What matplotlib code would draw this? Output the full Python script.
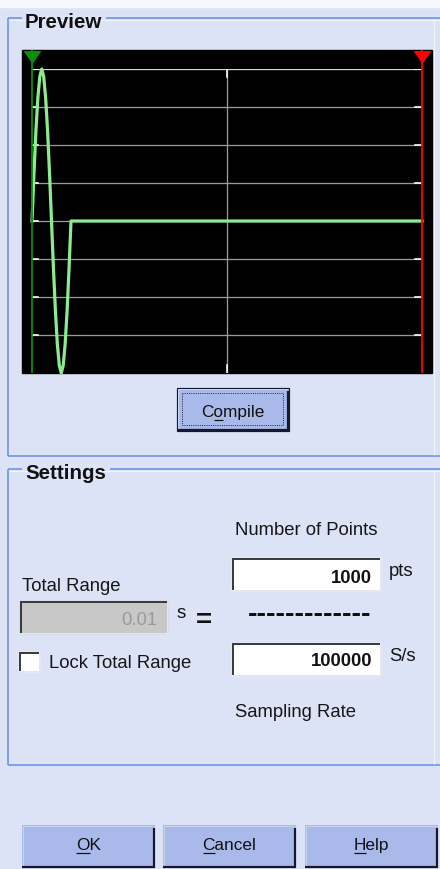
import matplotlib
matplotlib.use('Agg')
import matplotlib.pyplot as plt
from matplotlib.patches import Rectangle

plt.rcParams['font.family'] = ['Liberation Sans', 'DejaVu Sans']

# ---------------- data ----------------
time_ms = [0.0, 0.05, 0.10, 0.15, 0.20, 0.25, 0.30, 0.35, 0.40, 0.45, 0.50,
           0.55, 0.60, 0.65, 0.70, 0.75, 0.80, 0.85, 0.90, 0.95, 1.00, 10.0]
amplitude = [0.0, 0.31, 0.59, 0.81, 0.95, 1.0, 0.95, 0.81, 0.59, 0.31, 0.0,
             -0.31, -0.59, -0.81, -0.95, -1.0, -0.95, -0.81, -0.59, -0.31, 0.0, 0.0]
x_range_ms = [0.0, 10.0]
y_range = [-1.0, 1.0]
cursor_times_ms = [0.0, 10.0]
cursor_colors = ['#0b8f0b', '#ff0000']
n_ydiv = 8
n_xdiv = 2

group_titles = ['Preview', 'Settings']
compile_label = 'Compile'
label_points = 'Number of Points'
label_rate = 'Sampling Rate'
label_total = 'Total Range'
label_lock = 'Lock Total Range'
value_points = '1000'
value_rate = '100000'
value_total = '0.01'
unit_points = 'pts'
unit_rate = 'S/s'
unit_total = 's'
button_labels = ['OK', 'Cancel', 'Help']

# ---------------- styles ----------------
W, H = 440, 869
LAV = '#dde3f7'
BORDER = '#6a93e8'
BTN = '#a9b9ea'
DARK = '#15182e'
FS = 13.3
FS_BTN = 12.4

fig = plt.figure(figsize=(W / 100, H / 100), dpi=100)
bg = fig.add_axes([0, 0, 1, 1])
bg.set_xlim(0, W)
bg.set_ylim(H, 0)
bg.axis('off')
renderer = fig.canvas.get_renderer()

PX = 0.72  # points per pixel


def twidth(s, **kw):
    t = bg.text(0, 0, s, **kw)
    w = t.get_window_extent(renderer).width
    t.remove()
    return w


def hline(x0, x1, y, c, w=1.0, z=2, **kw):
    bg.plot([x0, x1], [y, y], color=c, lw=w * PX, zorder=z, solid_capstyle='butt', **kw)


def vline(x, y0, y1, c, w=1.0, z=2, **kw):
    bg.plot([x, x], [y0, y1], color=c, lw=w * PX, zorder=z, solid_capstyle='butt', **kw)


bg.add_patch(Rectangle((0, 0), W, H, color=LAV, zorder=0))
bg.add_patch(Rectangle((0, 0), W, 7, color='#f6f8fe', zorder=0.5))


def group_box(y_top, y_bot, title):
    tw = twidth(title, fontsize=14.8, fontweight='bold')
    bg.text(25, y_top + 10, title, fontsize=14.8, fontweight='bold', color='#111111',
            ha='left', va='baseline', zorder=3)
    hline(8, 22, y_top, BORDER, 1.6)
    hline(25 + tw + 4, W, y_top, BORDER, 1.6)
    hline(9, W, y_top + 1.5, '#f4f6fd', 1.0)
    vline(8, y_top, y_bot, BORDER, 1.6)
    hline(8, W, y_bot, BORDER, 1.6)
    vline(433.5, y_top + 2, y_bot - 1, '#f0f3fc', 1.2)


group_box(18, 456, group_titles[0])
group_box(469, 765, group_titles[1])

# ---------------- preview plot ----------------
bg.add_patch(Rectangle((22, 50), 410, 323, color='black', zorder=1))

ax = fig.add_axes([32 / W, 1 - 373 / H, 390 / W, 304 / H])
ax.set_xlim(x_range_ms)
ax.set_ylim(y_range)
ax.axis('off')

ytr = ax.get_yaxis_transform()
xtr = ax.get_xaxis_transform()
span = y_range[1] - y_range[0]
for k in range(1, n_ydiv + 1):
    yv = y_range[0] + span * k / n_ydiv
    col = '#d6d6d6' if k == n_ydiv else '#9a9a9a'
    ax.plot([0, 1], [yv, yv], transform=ytr, color=col, lw=1.3 * PX, zorder=1)
    ax.plot([0, 0.016], [yv, yv], transform=ytr, color='white', lw=1.6 * PX, zorder=1.1)
    ax.plot([0.982, 1], [yv, yv], transform=ytr, color='white', lw=1.6 * PX, zorder=1.1)
xspan = x_range_ms[1] - x_range_ms[0]
for j in range(1, n_xdiv):
    xv = x_range_ms[0] + xspan * j / n_xdiv
    ax.plot([xv, xv], [0, 1], transform=xtr, color='#9a9a9a', lw=1.3 * PX, zorder=1)
    ax.plot([xv, xv], [0.975, 1], transform=xtr, color='white', lw=1.6 * PX, zorder=1.1)
    ax.plot([xv, xv], [0, 0.025], transform=xtr, color='white', lw=1.6 * PX, zorder=1.1)

ax.plot(time_ms, amplitude, color='#8eea8e', lw=3.2 * PX, zorder=3, clip_on=False)

tri = [(-9, 6.5), (9, 6.5), (0, -6.5)]
for t, c in zip(cursor_times_ms, cursor_colors):
    ax.plot([t, t], [0, 1.0625], transform=xtr, color=c, lw=1.8 * PX, zorder=4,
            clip_on=False, solid_capstyle='butt')
    ax.plot([t], [1.041], transform=xtr, marker=tri, ms=18 * PX, color=c,
            mec=c, mew=0, zorder=5, clip_on=False)


# ---------------- buttons ----------------
def underline_text(cx, base, label, idx, fs):
    full = twidth(label, fontsize=fs)
    pre = twidth(label[:idx], fontsize=fs) if idx > 0 else 0.0
    ch = twidth(label[idx], fontsize=fs)
    left = cx - full / 2
    bg.text(cx, base, label, fontsize=fs, ha='center', va='baseline', color='#111111',
            zorder=6)
    hline(left + pre, left + pre + ch, base + 3, '#111111', 1.2, z=6)


def button(x0, y0, x1, y1, label, idx, base, default=False):
    bg.add_patch(Rectangle((x0, y0), x1 - x0, y1 - y0, facecolor=BTN,
                           edgecolor=DARK if default else 'none', lw=1.2 * PX, zorder=4))
    hline(x0 + 1, x1 - 2, y0 + 1, '#c9d3f3', 1.0, z=5)
    vline(x0 + 1, y0 + 1, y1 - 2, '#c9d3f3', 1.0, z=5)
    vline(x1 - 1, y0 + 3, y1, DARK, 2.2, z=5)
    hline(x0, x1, y1 - 1, DARK, 2.2, z=5)
    cx = (x0 + x1) / 2
    underline_text(cx, base, label, idx, FS_BTN)
    if default:
        bg.add_patch(Rectangle((x0 + 5, y0 + 5), x1 - x0 - 11, y1 - y0 - 11, fill=False,
                               edgecolor='#2a2a3a', lw=1.0 * PX, ls=(0, (1, 1.2)), zorder=5))


button(177, 388, 289, 431, compile_label, 1, 417, default=True)
for (x0, x1), lab in zip([(22, 155), (163, 296), (305, 438)], button_labels):
    button(x0, 825, x1, 868, lab, 0, 850)


# ---------------- settings ----------------
def textbox(x0, y0, x1, y1, fill):
    bg.add_patch(Rectangle((x0, y0), x1 - x0, y1 - y0, color=fill, zorder=3))
    hline(x0, x1, y0 + 1, '#3c3c3c', 2.0, z=4)
    vline(x0 + 1, y0, y1, '#3c3c3c', 2.0, z=4)
    hline(x0, x1, y1 - 0.5, '#e6e6e6', 1.0, z=4)
    vline(x1 - 0.5, y0, y1, '#e6e6e6', 1.0, z=4)


textbox(232, 558, 380, 590, 'white')
textbox(232, 643, 380, 675, 'white')
textbox(20, 601, 167, 633, '#c8c8c8')
textbox(19, 652, 39, 671, 'white')

txt = dict(fontsize=FS, color='#161616', va='baseline', zorder=6)
bg.text(235, 535, label_points, ha='left', **txt)
bg.text(235, 717, label_rate, ha='left', **txt)
bg.text(22, 591, label_total, ha='left', **txt)
bg.text(49, 668, label_lock, ha='left', **txt)
bg.text(389, 576, unit_points, ha='left', **txt)
bg.text(389, 661, unit_rate, ha='left', **txt)
bg.text(177, 618, unit_total, ha='left', **txt)
bg.text(372, 583, value_points, ha='right', fontsize=FS, fontweight='bold',
        color='#111111', va='baseline', zorder=6)
bg.text(372, 666, value_rate, ha='right', fontsize=FS, fontweight='bold',
        color='#111111', va='baseline', zorder=6)
bg.text(157, 625, value_total, ha='right', fontsize=FS, color='#9a9a9a',
        va='baseline', zorder=6)
bg.text(204, 621, '=', ha='center', va='center', fontsize=20, fontweight='bold',
        color='#111111', zorder=6)
bg.text(310, 614.5, '-' * 13, ha='center', va='center', fontsize=20.5, fontweight='bold',
        color='#111111', zorder=6)

fig.savefig('out.png', dpi=100)
